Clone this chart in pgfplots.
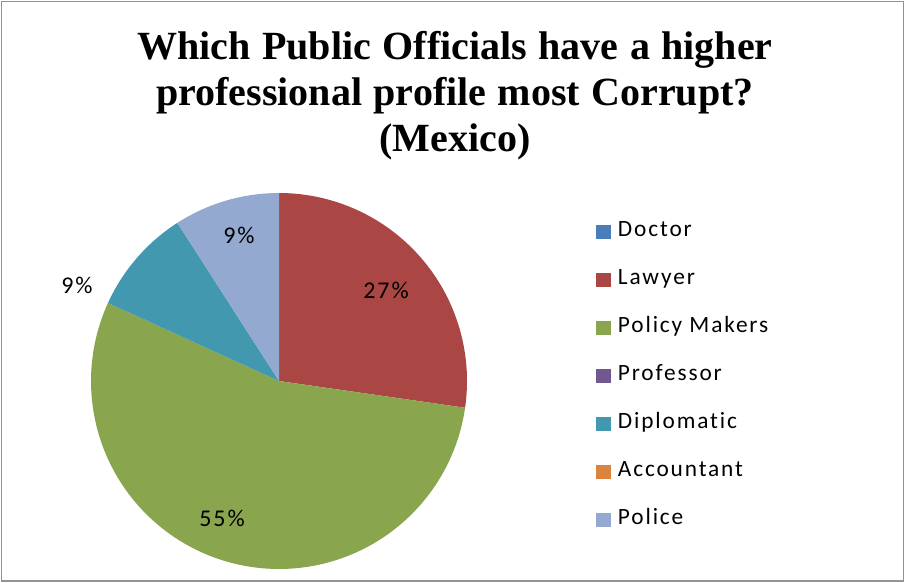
\documentclass[border=0pt]{standalone}
\usepackage{pgfplots}
\usepackage{pgfplotstable}
\pgfplotsset{compat=1.18}
\usepackage{fontspec}
\setmainfont{Carlito}[LetterSpace=8, Ligatures=NoCommon]
\newfontfamily\titlefont{Liberation Serif}[WordSpace=1.15]

\definecolor{cDoctor}{HTML}{4A7EBB}
\definecolor{cLawyer}{HTML}{AA4643}
\definecolor{cPolicy}{HTML}{89A54E}
\definecolor{cProf}{HTML}{71588F}
\definecolor{cDipl}{HTML}{4298AF}
\definecolor{cAcc}{HTML}{DB843D}
\definecolor{cPolice}{HTML}{93A9CF}

% counts per category (Mexico)
\pgfplotstableread[col sep=comma]{
name,value
Doctor,0
Lawyer,3
Policy Makers,6
Professor,0
Diplomatic,1
Accountant,0
Police,1
}\mexico

\begin{document}
\begin{tikzpicture}
\pgfplotstablegetelem{1}{value}\of\mexico \let\vLaw\pgfplotsretval
\pgfplotstablegetelem{2}{value}\of\mexico \let\vPol\pgfplotsretval
\pgfplotstablegetelem{4}{value}\of\mexico \let\vDip\pgfplotsretval
\pgfplotstablegetelem{6}{value}\of\mexico \let\vPolice\pgfplotsretval
\pgfmathsetmacro\total{\vLaw+\vPol+\vDip+\vPolice}
% slices run clockwise from 12 o'clock
\pgfmathsetmacro\aA{90}
\pgfmathsetmacro\aB{\aA-360*\vLaw/\total}
\pgfmathsetmacro\aC{\aB-360*\vPol/\total}
\pgfmathsetmacro\aD{\aC-360*\vDip/\total}
\pgfmathsetmacro\aE{\aD-360*\vPolice/\total}
\begin{axis}[
    x=0.75pt, y=0.75pt,
    xmin=0, xmax=905, ymin=0, ymax=582,
    hide axis,
    clip=false,
    legend style={
        at={(axis cs:592,363)}, anchor=north west,
        draw=none, fill=none,
        font=\fontsize{17.5}{20}\selectfont,
        row sep=21pt, column sep=5pt,
        nodes={inner sep=0pt, text height=11pt, text depth=4pt},
    },
    legend cell align=left,
    legend image code/.code={\fill[#1, draw=none] (0pt,-5.25pt) rectangle (11.25pt,5.25pt);},
]
\addplot[forget plot, draw=none, fill=cLawyer, domain=\aB:\aA, samples=80, variable=\t]
    ({279+188*cos(\t)},{201+188*sin(\t)}) -- (axis cs:279,201) -- cycle;
\addplot[forget plot, draw=none, fill=cPolicy, domain=\aC:\aB, samples=120, variable=\t]
    ({279+188*cos(\t)},{201+188*sin(\t)}) -- (axis cs:279,201) -- cycle;
\addplot[forget plot, draw=none, fill=cDipl, domain=\aD:\aC, samples=40, variable=\t]
    ({279+188*cos(\t)},{201+188*sin(\t)}) -- (axis cs:279,201) -- cycle;
\addplot[forget plot, draw=none, fill=cPolice, domain=\aE:\aD, samples=40, variable=\t]
    ({279+188*cos(\t)},{201+188*sin(\t)}) -- (axis cs:279,201) -- cycle;

\addlegendimage{fill=cDoctor}\addlegendentry{Doctor}
\addlegendimage{fill=cLawyer}\addlegendentry{Lawyer}
\addlegendimage{fill=cPolicy}\addlegendentry{Policy Makers}
\addlegendimage{fill=cProf}\addlegendentry{Professor}
\addlegendimage{fill=cDipl}\addlegendentry{Diplomatic}
\addlegendimage{fill=cAcc}\addlegendentry{Accountant}
\addlegendimage{fill=cPolice}\addlegendentry{Police}

\begin{scope}[every node/.style={font=\fontsize{18}{20}\selectfont}]
\node at (axis cs:386,292) {27\%};
\node at (axis cs:222,64) {55\%};
\node at (axis cs:77,297) {9\%};
\node at (axis cs:239,347) {9\%};
\end{scope}

\node[align=center, font=\titlefont\bfseries\fontsize{30}{34.5}\selectfont]
    at (axis cs:455,486) {Which Public Officials have a higher\\professional profile most Corrupt?\\(Mexico)};

\draw[gray!85, line width=1pt] (axis cs:1.5,1) rectangle (axis cs:903.5,580.5);
\end{axis}
\pgfresetboundingbox
\useasboundingbox (current axis.south west) rectangle (current axis.north east);
\end{tikzpicture}
\end{document}
